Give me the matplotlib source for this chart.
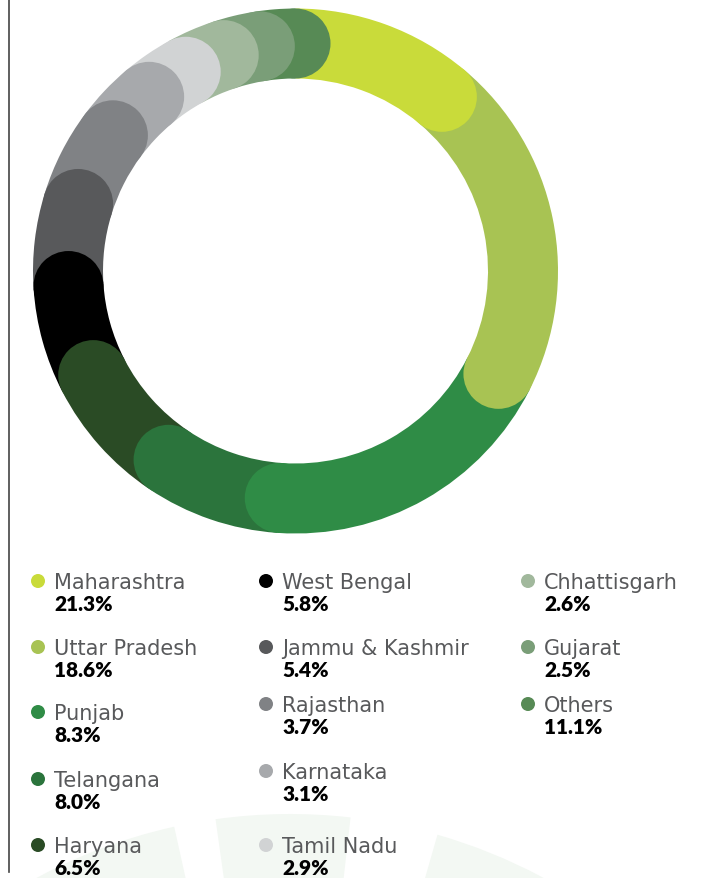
import numpy as np
import matplotlib.pyplot as plt
from matplotlib.patches import Wedge, Circle

# data
states = ['Maharashtra', 'Uttar Pradesh', 'Punjab', 'Telangana', 'Haryana',
          'West Bengal', 'Jammu & Kashmir', 'Rajasthan', 'Karnataka',
          'Tamil Nadu', 'Chhattisgarh', 'Gujarat', 'Others']
shares = [21.3, 18.6, 8.3, 8.0, 6.5, 5.8, 5.4, 3.7, 3.1, 2.9, 2.6, 2.5, 11.1]
colors = ['#c9db3a', '#a8c353', '#2f8c46', '#2b743c', '#2a4b25',
          '#000000', '#58595b', '#808285', '#a7a9ac', '#d1d3d4',
          '#a1b89c', '#7a9e78', '#578a55']

plt.rcParams['font.family'] = ['Lato', 'DejaVu Sans']

W, H = 713, 879
fig = plt.figure(figsize=(W / 100, H / 100), dpi=100)
ax = fig.add_axes([0, 0, 1, 1])
ax.set_xlim(0, W)
ax.set_ylim(H, 0)
ax.axis('off')

# faint watermark ring in the background
for a1, a2 in [(-30, -12.5), (-8, 6.5), (16, 40)]:
    ax.add_patch(Wedge((290, 1350), 535, a1 - 90, a2 - 90, width=250,
                       color='#f3f8f3', lw=0, zorder=0))

# left rule
ax.plot([8.5, 8.5], [0, 873], color='#444444', lw=1.2, zorder=1)

# donut: arcs in order, angle spans taken from the values shifted by one slot
cx, cy = 295.5, 272
r_out, r_in = 262.5, 192.5
w = r_out - r_in
r_mid = (r_out + r_in) / 2
spans = np.roll(np.array(shares), 1)
spans = spans / spans.sum() * 360
ends = np.cumsum(spans)
starts = ends - spans
for s, e, c in zip(starts, ends, colors):
    ax.add_patch(Wedge((cx, cy), r_out, s - 90, e - 90, width=w,
                       color=c, lw=0, zorder=2))
# rounded end caps, earlier segments on top
for i in range(len(states) - 1, -1, -1):
    a = np.radians(ends[i])
    ax.add_patch(Circle((cx + r_mid * np.sin(a), cy - r_mid * np.cos(a)),
                        w / 2, color=colors[i], lw=0, zorder=3 + (len(states) - i) * 0.01))

# legend
col_x = [38, 266, 528]
col_rows = [[582, 648, 713, 780, 846],
            [582, 648, 705, 772, 846],
            [582, 648, 705]]
k = 0
for ci, rows in enumerate(col_rows):
    for y in rows:
        ax.add_patch(Circle((col_x[ci], y), 7, color=colors[k], lw=0, zorder=5))
        ax.text(col_x[ci] + 16, y + 1, states[k], fontsize=15, color='#58595b',
                family='DejaVu Sans', va='center', ha='left', zorder=5)
        ax.text(col_x[ci] + 16, y + 23, f'{shares[k]:.1f}%', fontsize=15,
                fontweight='heavy', color='#000000', va='center', ha='left', zorder=5)
        k += 1

fig.savefig('out.png', dpi=100)
